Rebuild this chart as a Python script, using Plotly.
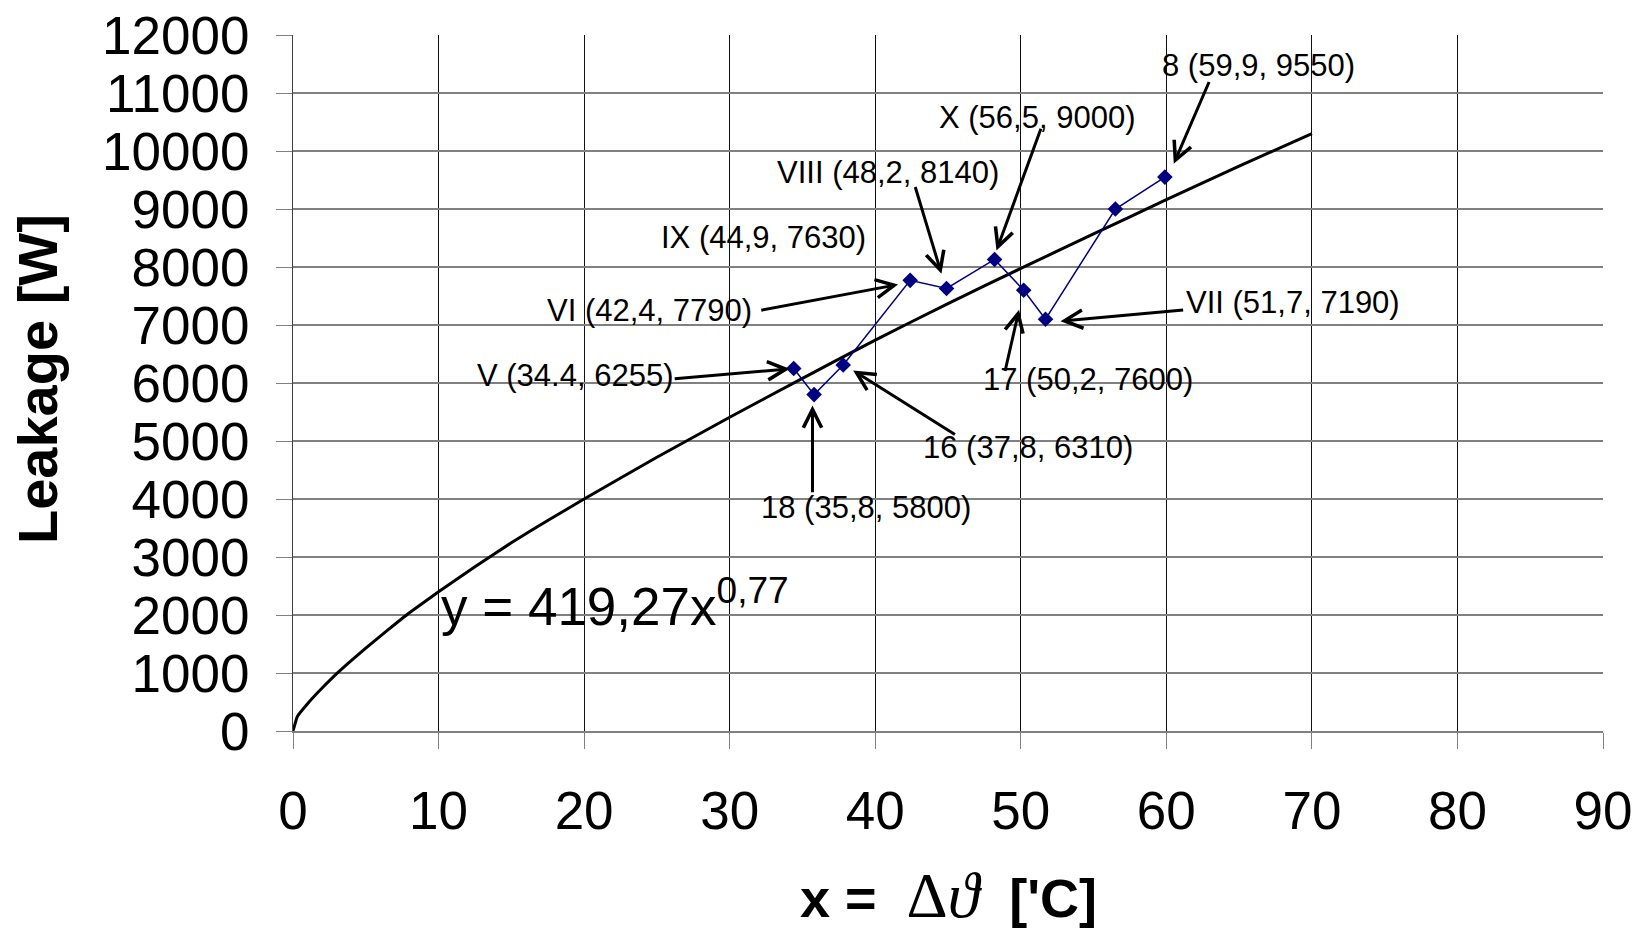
import plotly.graph_objects as go

# ---- data ----
# measured points (plotted in x order)
pt_names = ["V", "18", "16", "VI", "IX", "VIII", "17", "VII", "X", "8"]
pt_x = [34.4, 35.8, 37.8, 42.4, 44.9, 48.2, 50.2, 51.7, 56.5, 59.9]
pt_y = [6250, 5800, 6310, 7770, 7630, 8130, 7600, 7100, 9000, 9550]

# power trend curve
curve_x = [0, 0.3, 1, 2, 3, 4, 5, 6.5, 8, 10, 12.5, 15, 17.5, 20, 25, 30,
           35, 40, 45, 50, 55, 60, 65, 70]
curve_y = [0, 250, 470, 740, 990, 1215, 1430, 1740, 2040, 2400, 2830, 3245, 3630, 4000,
           4720, 5410, 6080, 6740, 7370, 7975, 8570, 9160, 9740, 10300]

x_ticks = [0, 10, 20, 30, 40, 50, 60, 70, 80, 90]
y_ticks = [0, 1000, 2000, 3000, 4000, 5000, 6000, 7000, 8000, 9000, 10000, 11000, 12000]

label_text = ["8 (59,9, 9550)", "X (56,5, 9000)", "VIII (48,2, 8140)", "IX (44,9, 7630)",
              "VI (42,4, 7790)", "V (34.4, 6255)", "18 (35,8, 5800)", "16 (37,8, 6310)",
              "17 (50,2, 7600)", "VII (51,7, 7190)"]

equation_text = "y = 419,27x<sup>0,77</sup>"

# ---- annotation placement (data units) ----
label_pos = [(66.3, 11474), (51.12, 10583), (40.89, 9624), (32.34, 8514), (24.48, 7253),
             (19.40, 6134), (39.40, 3859), (50.48, 4893), (54.64, 6060), (68.67, 7393)]
arrow_tail = [(62.98, 11216), (51.42, 10410), (42.72, 9405), None, (32.07, 7250),
              (26.12, 6072), (35.69, 4090), (45.58, 5095), (48.90, 6181), (61.26, 7262)]
arrow_head = [(60.51, 9779), (48.33, 8284), (44.55, 7883), None, (41.57, 7698),
              (34.13, 6245), (35.69, 5612), (38.48, 6216), (49.88, 7262), (52.73, 7066)]

FONT = "Liberation Sans, Arial, sans-serif"

fig = go.Figure()
fig.add_trace(go.Scatter(x=curve_x, y=curve_y, mode="lines",
                         line=dict(color="black", width=3, shape="spline", smoothing=0.3),
                         hoverinfo="skip", showlegend=False))
fig.add_trace(go.Scatter(x=pt_x, y=pt_y, mode="lines+markers", text=pt_names,
                         line=dict(color="#000080", width=1.5),
                         marker=dict(symbol="diamond", size=12, color="#000080"),
                         showlegend=False))

annotations = []
for txt, (lx, ly) in zip(label_text, label_pos):
    annotations.append(dict(x=lx, y=ly, xref="x", yref="y", text=txt, showarrow=False,
                            font=dict(family=FONT, size=31, color="black"),
                            xanchor="center", yanchor="middle"))
for tail, head in zip(arrow_tail, arrow_head):
    if tail is None:
        continue
    annotations.append(dict(x=head[0], y=head[1], xref="x", yref="y",
                            ax=tail[0], ay=tail[1], axref="x", ayref="y",
                            text="", showarrow=True, arrowhead=5, arrowsize=1.2,
                            arrowwidth=3, arrowcolor="black", standoff=0))

annotations.append(dict(x=10.05, y=2210, xref="x", yref="y", text=equation_text,
                        showarrow=False, xanchor="left", yanchor="middle",
                        font=dict(family=FONT, size=53, color="black")))

annotations.append(dict(x=-0.1945, y=0.506, xref="paper", yref="paper",
                        text="<b>Leakage [W]</b>", textangle=-90, showarrow=False,
                        xanchor="center", yanchor="middle",
                        font=dict(family=FONT, size=56, color="black")))
annotations.append(dict(x=0.5, y=-0.237, xref="paper", yref="paper",
                        text="<b>x =</b>\u00a0\u00a0<span style='font-family:Liberation Serif, DejaVu Serif;font-size:64px'>\u0394<i>\u03d1</i></span>\u00a0\u00a0<b>['C]</b>",
                        showarrow=False, xanchor="center", yanchor="middle",
                        font=dict(family=FONT, size=54, color="black")))

fig.update_layout(
    width=1641, height=933,
    template="none",
    paper_bgcolor="white", plot_bgcolor="white",
    margin=dict(l=293, r=38, t=35, b=202, pad=0),
    font=dict(family=FONT, color="black"),
    annotations=annotations,
    showlegend=False,
)
fig.update_xaxes(range=[0, 90], tickvals=x_ticks, ticktext=[str(v) for v in x_ticks],
                 showgrid=True, gridcolor="#101010", gridwidth=1,
                 showline=True, linecolor="#808080", linewidth=2,
                 ticks="outside", ticklen=16, tickcolor="#808080", tickwidth=1,
                 tickfont=dict(family=FONT, size=53, color="black"),
                 ticklabelstandoff=16, ticklabeloverflow="allow",
                 zeroline=False, automargin=False)
fig.update_yaxes(range=[0, 12000], tickvals=y_ticks, ticktext=[str(v) for v in y_ticks],
                 showgrid=True, gridcolor="#808080", gridwidth=1.5,
                 showline=True, linecolor="#404040", linewidth=1,
                 ticks="outside", ticklen=16, tickcolor="#808080", tickwidth=1,
                 tickfont=dict(family=FONT, size=53, color="black"),
                 ticklabelstandoff=16, ticklabeloverflow="allow",
                 zeroline=False, automargin=False)

# the page body's default 8 px margin is removed so the figure fills the window
fig.write_html("out.html", config={"displayModeBar": False},
               post_script="document.body.style.margin='0px';document.body.style.overflow='hidden';")
